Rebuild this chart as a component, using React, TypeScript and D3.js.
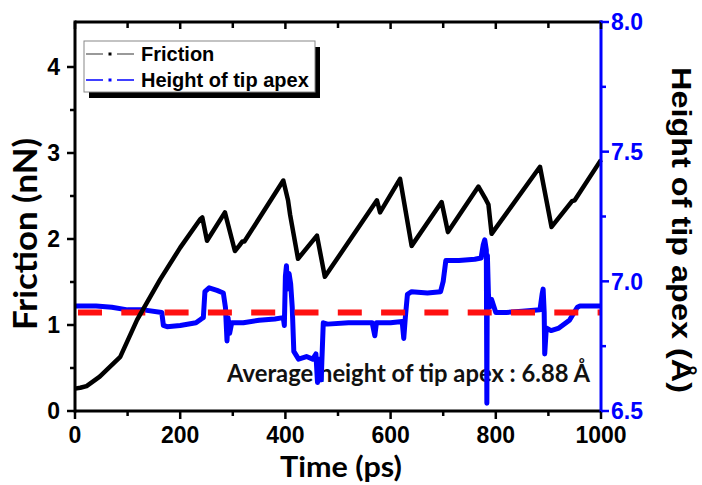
import React, { useEffect, useRef } from 'react';
import * as d3 from 'd3';

// Friction trace (black, left axis)
const frictionTime = [0, 10, 22, 47, 86, 118, 162, 200, 238, 242, 251, 285, 304, 312, 318, 322, 396, 405, 409, 424, 460, 475, 574, 580, 618, 640, 697, 709, 767, 781, 786, 792, 884, 906, 945, 950, 1000];
const frictionValue = [0.26, 0.27, 0.29, 0.40, 0.63, 1.06, 1.53, 1.90, 2.23, 2.25, 1.98, 2.31, 1.86, 1.92, 1.97, 1.97, 2.68, 2.45, 2.28, 1.77, 2.04, 1.56, 2.45, 2.31, 2.70, 1.92, 2.43, 2.08, 2.61, 2.46, 2.40, 2.06, 2.84, 2.14, 2.44, 2.45, 2.92];

// Height of tip apex trace (blue, right axis)
const heightTime = [0, 40, 70, 100, 130, 165, 168, 175, 200, 230, 240, 244, 247, 255, 270, 282, 286, 289, 291, 294, 298, 320, 350, 380, 396, 398, 400, 402, 404, 407, 410, 413, 416, 425, 440, 452, 458, 461, 464, 468, 472, 480, 520, 565, 570, 573, 600, 622, 625, 628, 632, 640, 670, 695, 700, 705, 730, 760, 772, 776, 779, 782, 783, 784, 786, 788, 792, 800, 820, 850, 884, 888, 890, 892, 893, 896, 905, 920, 940, 955, 960, 1000];
const heightValue = [6.905, 6.905, 6.9, 6.89, 6.89, 6.88, 6.83, 6.825, 6.83, 6.84, 6.855, 6.86, 6.96, 6.975, 6.965, 6.955, 6.9, 6.77, 6.86, 6.8, 6.84, 6.84, 6.85, 6.855, 6.86, 6.83, 7.02, 7.06, 6.97, 7.03, 6.99, 6.9, 6.73, 6.70, 6.71, 6.70, 6.72, 6.61, 6.7, 6.62, 6.84, 6.835, 6.84, 6.84, 6.79, 6.84, 6.84, 6.845, 6.78, 6.86, 6.95, 6.96, 6.955, 6.96, 7.0, 7.08, 7.08, 7.085, 7.09, 7.14, 7.16, 7.12, 6.53, 7.1, 6.95, 6.9, 6.93, 6.88, 6.88, 6.885, 6.89, 6.95, 6.97, 6.88, 6.72, 6.82, 6.81, 6.82, 6.85, 6.9, 6.905, 6.905];

const averageHeight = 6.88;

const xTicks = [0, 200, 400, 600, 800, 1000];
const xMinorTicks = [100, 300, 500, 700, 900];
const leftTicks = [0, 1, 2, 3, 4];
const leftMinorTicks = [0.5, 1.5, 2.5, 3.5];
const rightTicks = [6.5, 7.0, 7.5, 8.0];
const rightMinorTicks = [6.75, 7.25, 7.75];

const legendItems = ['Friction', 'Height of tip apex'];

const App = () => {
  const svgRef = useRef<SVGSVGElement>(null);

  useEffect(() => {
    const svg = d3.select(svgRef.current);
    svg.selectAll('*').remove();

    const left = 75, right = 601, top = 22, bottom = 411;
    const blue = '#0000ff';

    const x = d3.scaleLinear().domain([0, 1000]).range([left, right]);
    const yF = d3.scaleLinear().domain([0, 4]).range([bottom, 67]);
    const yH = d3.scaleLinear().domain([6.5, 8]).range([bottom, top]);

    svg.append('rect').attr('width', 702).attr('height', 485).attr('fill', '#fff');

    // annotation (below the traces)
    svg.append('text')
      .attr('x', 227).attr('y', 382)
      .attr('font-family', 'Lato, sans-serif').attr('font-weight', 700)
      .attr('font-size', 24)
      .attr('textLength', 363).attr('lengthAdjust', 'spacingAndGlyphs')
      .attr('fill', '#111')
      .text('Average height of tip apex : 6.88 Å');

    // blue trace
    const heightData = heightTime.map((t, i) => [t, heightValue[i]] as [number, number]);
    svg.append('path')
      .datum(heightData)
      .attr('d', d3.line<[number, number]>().x(d => x(d[0])).y(d => yH(d[1])))
      .attr('fill', 'none').attr('stroke', blue).attr('stroke-width', 5)
      .attr('stroke-linejoin', 'round');

    // average dashed line
    svg.append('line')
      .attr('x1', 78).attr('x2', right)
      .attr('y1', yH(averageHeight)).attr('y2', yH(averageHeight))
      .attr('stroke', '#ff1010').attr('stroke-width', 6)
      .attr('stroke-dasharray', '24,19.3');

    // friction trace
    const frictionData = frictionTime.map((t, i) => [t, frictionValue[i]] as [number, number]);
    svg.append('path')
      .datum(frictionData)
      .attr('d', d3.line<[number, number]>().x(d => x(d[0])).y(d => yF(d[1])))
      .attr('fill', 'none').attr('stroke', '#000').attr('stroke-width', 4.5)
      .attr('stroke-linejoin', 'round');

    // frame
    svg.append('line').attr('x1', left).attr('x2', right + 1.5).attr('y1', top).attr('y2', top)
      .attr('stroke', '#000').attr('stroke-width', 3);
    svg.append('line').attr('x1', left).attr('x2', right).attr('y1', bottom).attr('y2', bottom)
      .attr('stroke', '#000').attr('stroke-width', 3);
    svg.append('line').attr('x1', left).attr('x2', left).attr('y1', top - 1.5).attr('y2', bottom + 1.5)
      .attr('stroke', '#000').attr('stroke-width', 3);
    svg.append('line').attr('x1', right).attr('x2', right).attr('y1', top - 1.5).attr('y2', bottom + 1.5)
      .attr('stroke', blue).attr('stroke-width', 3);

    const labelFont = 'Liberation Sans, Arial, sans-serif';
    const tickSize = 23;

    // bottom / top axis ticks + labels
    xTicks.forEach(t => {
      svg.append('line').attr('x1', x(t)).attr('x2', x(t)).attr('y1', bottom).attr('y2', bottom + 8)
        .attr('stroke', '#000').attr('stroke-width', 2.5);
      svg.append('line').attr('x1', x(t)).attr('x2', x(t)).attr('y1', top).attr('y2', top + 7)
        .attr('stroke', '#000').attr('stroke-width', 2.5);
      svg.append('text').attr('x', x(t)).attr('y', 443)
        .attr('text-anchor', 'middle').attr('font-family', labelFont).attr('font-weight', 700)
        .attr('font-size', tickSize).text(String(t));
    });
    xMinorTicks.forEach(t => {
      svg.append('line').attr('x1', x(t)).attr('x2', x(t)).attr('y1', bottom).attr('y2', bottom + 5)
        .attr('stroke', '#000').attr('stroke-width', 2.5);
      svg.append('line').attr('x1', x(t)).attr('x2', x(t)).attr('y1', top).attr('y2', top + 6)
        .attr('stroke', '#000').attr('stroke-width', 2.5);
    });

    // left axis
    leftTicks.forEach(v => {
      svg.append('line').attr('x1', left - 8).attr('x2', left).attr('y1', yF(v)).attr('y2', yF(v))
        .attr('stroke', '#000').attr('stroke-width', 2.5);
      svg.append('text').attr('x', 60).attr('y', yF(v)).attr('dy', '0.36em')
        .attr('text-anchor', 'end').attr('font-family', labelFont).attr('font-weight', 700)
        .attr('font-size', tickSize).text(String(v));
    });
    leftMinorTicks.forEach(v => {
      svg.append('line').attr('x1', left - 5).attr('x2', left).attr('y1', yF(v)).attr('y2', yF(v))
        .attr('stroke', '#000').attr('stroke-width', 2.5);
    });

    // right axis
    rightTicks.forEach(v => {
      svg.append('line').attr('x1', right).attr('x2', right + 8).attr('y1', yH(v)).attr('y2', yH(v))
        .attr('stroke', blue).attr('stroke-width', 2.5);
      svg.append('text').attr('x', 611).attr('y', yH(v)).attr('dy', '0.36em')
        .attr('font-family', labelFont).attr('font-weight', 700)
        .attr('font-size', tickSize).attr('fill', blue).text(v.toFixed(1));
    });
    rightMinorTicks.forEach(v => {
      svg.append('line').attr('x1', right).attr('x2', right + 5).attr('y1', yH(v)).attr('y2', yH(v))
        .attr('stroke', blue).attr('stroke-width', 2.5);
    });

    // axis titles
    svg.append('text')
      .attr('transform', 'translate(37,234) rotate(-90)')
      .attr('text-anchor', 'middle').attr('font-family', 'Lato, sans-serif').attr('font-weight', 700)
      .attr('font-size', 32).attr('textLength', 192).attr('lengthAdjust', 'spacingAndGlyphs')
      .text('Friction (nN)');
    svg.append('text')
      .attr('x', 341).attr('y', 477)
      .attr('text-anchor', 'middle').attr('font-family', 'Lato, sans-serif').attr('font-weight', 700)
      .attr('font-size', 28).attr('textLength', 122).attr('lengthAdjust', 'spacingAndGlyphs')
      .text('Time (ps)');
    svg.append('text')
      .attr('transform', 'translate(672,230) rotate(90)')
      .attr('text-anchor', 'middle').attr('font-family', labelFont).attr('font-weight', 700)
      .attr('font-size', 28).attr('textLength', 326).attr('lengthAdjust', 'spacingAndGlyphs')
      .text('Height of tip apex (Å)');

    // legend
    svg.append('rect').attr('x', 89).attr('y', 47).attr('width', 231).attr('height', 51).attr('fill', '#000');
    svg.append('rect').attr('x', 84).attr('y', 41).attr('width', 231).attr('height', 51)
      .attr('fill', '#fff').attr('stroke', '#888').attr('stroke-width', 1);
    const legendColors = ['#777', blue];
    const dotColors = ['#000', blue];
    legendItems.forEach((name, i) => {
      const cy = 54 + i * 26;
      svg.append('line').attr('x1', 86).attr('x2', 103).attr('y1', cy).attr('y2', cy)
        .attr('stroke', legendColors[i]).attr('stroke-width', 1.5);
      svg.append('line').attr('x1', 117).attr('x2', 134).attr('y1', cy).attr('y2', cy)
        .attr('stroke', legendColors[i]).attr('stroke-width', 1.5);
      svg.append('rect').attr('x', 108.5).attr('y', cy - 1.5).attr('width', 3).attr('height', 3)
        .attr('fill', dotColors[i]);
      svg.append('text').attr('x', 141).attr('y', cy).attr('dy', '0.36em')
        .attr('font-family', labelFont).attr('font-weight', 700).attr('font-size', 20)
        .text(name);
    });
  }, []);

  return (
    <svg ref={svgRef} width={702} height={485}
      style={{ position: 'absolute', left: 0, top: 0 }} />
  );
};

export default App;
